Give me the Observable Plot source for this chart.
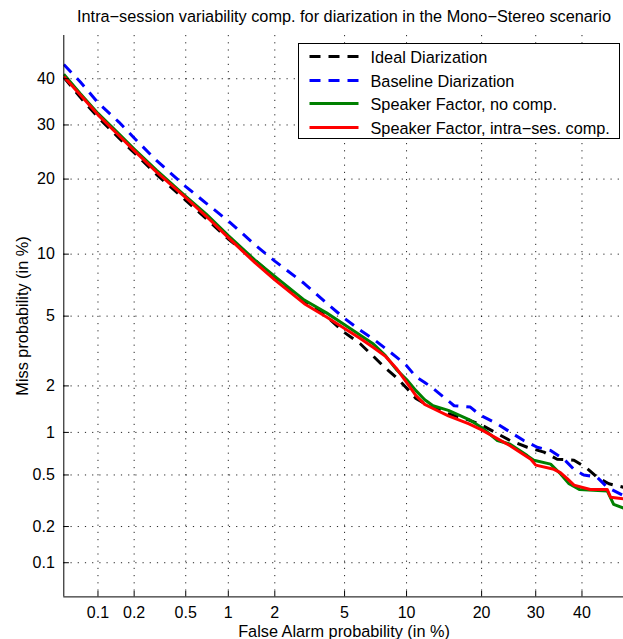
<!DOCTYPE html>
<html><head><meta charset="utf-8">
<script src="https://cdn.jsdelivr.net/npm/d3@7"></script>
<script src="https://cdn.jsdelivr.net/npm/@observablehq/plot@0.6"></script>
<style>
body{margin:0;background:#fff;}
#wrap{position:relative;width:623px;height:639px;overflow:hidden;font-family:"Liberation Sans",Arial,Helvetica,sans-serif;color:#000;background:#fff;}
.lbl{position:absolute;font-size:16.3px;line-height:16px;white-space:nowrap;}
#legend{position:absolute;left:298px;top:42.5px;width:322px;height:96px;box-sizing:border-box;border:1px solid #000;background:#fff;}
#legend .row{position:absolute;left:0;height:16px;width:100%;}
#legend svg{position:absolute;left:0;top:0;overflow:visible;}
#legend span{position:absolute;left:71.5px;top:0;font-size:16.3px;line-height:16px;white-space:nowrap;}
</style></head>
<body><div id="wrap"></div>
<script>
// ---- data (percent) ----
const tickValues = [0.1, 0.2, 0.5, 1, 2, 5, 10, 20, 30, 40];
const tickLabels = ["0.1", "0.2", "0.5", "1", "2", "5", "10", "20", "30", "40"];
const axisLimits = [0.05, 50];

const seriesNames = ["Ideal Diarization", "Baseline Diarization", "Speaker Factor, no comp.", "Speaker Factor, intra\u2212ses. comp."];

const idealFA   = [0.05,0.07,0.1,0.15,0.2,0.3,0.5,0.7,1,1.5,2,3,4,5,6,7,8,9,10,11,12,13,15,18,20,22.7,25,28.3,31.7,34.5,38.2,40.8,43.5,46.2,49.6];
const idealMiss = [40.3,35.9,31.6,27.4,24.6,20.8,16.7,14.2,11.65,9.4,7.8,5.98,4.98,4.08,3.55,3.0,2.56,2.25,1.94,1.67,1.55,1.46,1.33,1.21,1.12,0.98,0.88,0.79,0.73,0.65,0.64,0.57,0.48,0.43,0.405];

const baseFA   = [0.05,0.07,0.1,0.15,0.2,0.3,0.5,0.7,1,1.5,2,3,4,5,6,7,8,9,10,11,12,13,15,15.8,18.2,19.8,22.7,25.1,27.6,30.3,33.1,36.0,38.2,40.4,43.5,45.8,49.6];
const baseMiss = [43.25,39.3,34.7,30.6,27.4,23.2,18.8,16.3,13.85,11.0,9.3,7.3,5.84,4.86,4.21,3.76,3.33,2.97,2.65,2.27,2.10,1.93,1.61,1.50,1.47,1.30,1.14,1.00,0.88,0.79,0.75,0.65,0.55,0.50,0.48,0.405,0.35];

const sfFA   = [0.05,0.07,0.1,0.15,0.2,0.3,0.5,0.7,1,1.5,2,3,4,5,6,7,8,9,10,11,12,13,15,18,20,22.7,25,28.3,29.6,33.1,35.2,37.1,39.4,45.8,47.3,49.6];
const sfMiss = [41.0,36.7,32.4,28.2,25.3,21.5,17.3,14.8,12.05,9.4,7.9,6.05,5.2,4.5,3.96,3.53,3.03,2.51,2.19,1.87,1.64,1.5,1.40,1.22,1.08,0.88,0.83,0.69,0.64,0.60,0.51,0.43,0.39,0.38,0.30,0.28];

const sfCompFA   = [0.05,0.07,0.1,0.15,0.2,0.3,0.5,0.7,1,1.5,2,3,4,5,6,7,8,9,10,11,12,13,15,18,20,25,29,30,33.8,35.2,36.7,38.2,41.9,45.8,46.6,50];
const sfCompMiss = [40.5,36.4,32.1,27.9,25.0,21.2,17.1,14.5,11.8,9.15,7.6,5.8,4.95,4.3,3.8,3.37,3.0,2.55,2.1,1.74,1.53,1.44,1.29,1.14,1.04,0.81,0.65,0.59,0.55,0.52,0.47,0.42,0.39,0.39,0.34,0.33];

// ---- styles ----
const seriesColors = ["#000000", "#0000ff", "#008000", "#ff0000"];
const seriesDash = ["11,8", "11,8", null, null];

// inverse normal CDF (Acklam)
function probit(p){
  const a=[-3.969683028665376e+01,2.209460984245205e+02,-2.759285104469687e+02,1.383577518672690e+02,-3.066479806614716e+01,2.506628277459239e+00];
  const b=[-5.447609879822406e+01,1.615858368580409e+02,-1.556989798598866e+02,6.680131188771972e+01,-1.328068155288572e+01];
  const c=[-7.784894002430293e-03,-3.223964580411365e-01,-2.400758277161838e+00,-2.549732539343734e+00,4.374664141464968e+00,2.938163982698783e+00];
  const d=[7.784695709041462e-03,3.224671290700398e-01,2.445134137142996e+00,3.754408661907416e+00];
  const pl=0.02425, ph=1-pl; let q,r;
  if(p<pl){q=Math.sqrt(-2*Math.log(p));return (((((c[0]*q+c[1])*q+c[2])*q+c[3])*q+c[4])*q+c[5])/((((d[0]*q+d[1])*q+d[2])*q+d[3])*q+1);}
  if(p<=ph){q=p-0.5;r=q*q;return (((((a[0]*r+a[1])*r+a[2])*r+a[3])*r+a[4])*r+a[5])*q/(((((b[0]*r+b[1])*r+b[2])*r+b[3])*r+b[4])*r+1);}
  q=Math.sqrt(-2*Math.log(1-p));return -(((((c[0]*q+c[1])*q+c[2])*q+c[3])*q+c[4])*q+c[5])/((((d[0]*q+d[1])*q+d[2])*q+d[3])*q+1);
}
const P = v => probit(v / 100);
const rows = (fa, miss) => fa.map((f, i) => ({fa: f, miss: miss[i]}));
const seriesData = [rows(idealFA, idealMiss), rows(baseFA, baseMiss), rows(sfFA, sfMiss), rows(sfCompFA, sfCompMiss)];
const tickPos = tickValues.map(P);
const fmt = v => { const i = tickPos.findIndex(t => Math.abs(t - v) < 1e-9); return i >= 0 ? tickLabels[i] : ""; };
const dom = axisLimits.map(P);

const lineMarks = seriesData.map((data, k) => Plot.line(data, {
  x: d => P(d.fa), y: d => P(d.miss),
  stroke: seriesColors[k], strokeWidth: 3,
  strokeDasharray: seriesDash[k] || undefined,
  strokeLinejoin: "round", strokeLinecap: "butt", clip: true
}));

const gridStyle = {stroke: "#000", strokeOpacity: 0.85, strokeWidth: 1, strokeDasharray: "1.2,6"};

const chart = Plot.plot({
  width: 623, height: 639,
  marginLeft: 63.3, marginRight: 0, marginTop: 35, marginBottom: 42.6,
  x: {type: "linear", domain: dom, range: [63.3, 624.7]},
  y: {type: "linear", domain: dom, range: [596.4, 35]},
  style: {fontSize: "16px", fontFamily: '"Liberation Sans", Arial, Helvetica, sans-serif', color: "#000", background: "#fff", overflow: "hidden"},
  marks: [
    Plot.gridX(tickPos, gridStyle),
    Plot.gridY(tickPos, gridStyle),
    ...lineMarks,
    Plot.ruleX([dom[0]], {stroke: "#000", strokeWidth: 1}),
    Plot.ruleY([dom[0]], {stroke: "#000", strokeWidth: 1}),
    Plot.axisX(tickPos, {tickSize: -5.6, tickPadding: 14.9, tickFormat: fmt, label: null, stroke: "#000", strokeOpacity: 1}),
    Plot.axisY(tickPos, {tickSize: -5.6, tickPadding: 14.6, tickFormat: fmt, label: null, stroke: "#000", strokeOpacity: 1})
  ]
});

const wrap = document.getElementById("wrap");
chart.style.position = "absolute"; chart.style.left = "0"; chart.style.top = "0";
wrap.appendChild(chart);

function addLabel(text, cx, cy, rot) {
  const el = document.createElement("div");
  el.className = "lbl"; el.textContent = text;
  el.style.left = cx + "px"; el.style.top = cy + "px";
  el.style.transform = "translate(-50%,-50%)" + (rot ? " rotate(" + rot + "deg)" : "");
  wrap.appendChild(el);
}
addLabel("Intra\u2212session variability comp. for diarization in the Mono\u2212Stereo scenario", 344, 16, 0);
addLabel("False Alarm probability (in %)", 344, 630.5, 0);
addLabel("Miss probability (in %)", 21.7, 315.7, -90);

// legend
const legend = document.createElement("div");
legend.id = "legend";
const rowCenters = [13.5, 37, 60.5, 84];
seriesNames.forEach((name, k) => {
  const row = document.createElement("div");
  row.className = "row";
  row.style.top = (rowCenters[k] - 8) + "px";
  const ns = "http://www.w3.org/2000/svg";
  const svg = document.createElementNS(ns, "svg");
  svg.setAttribute("width", "80"); svg.setAttribute("height", "16");
  const ln = document.createElementNS(ns, "line");
  ln.setAttribute("x1", "10.5"); ln.setAttribute("x2", "59.5");
  ln.setAttribute("y1", "7.5"); ln.setAttribute("y2", "7.5");
  ln.setAttribute("stroke", seriesColors[k]); ln.setAttribute("stroke-width", "3");
  if (seriesDash[k]) ln.setAttribute("stroke-dasharray", seriesDash[k]);
  svg.appendChild(ln);
  const sp = document.createElement("span");
  sp.textContent = name;
  row.appendChild(svg); row.appendChild(sp);
  legend.appendChild(row);
});
wrap.appendChild(legend);
</script>
</body></html>
